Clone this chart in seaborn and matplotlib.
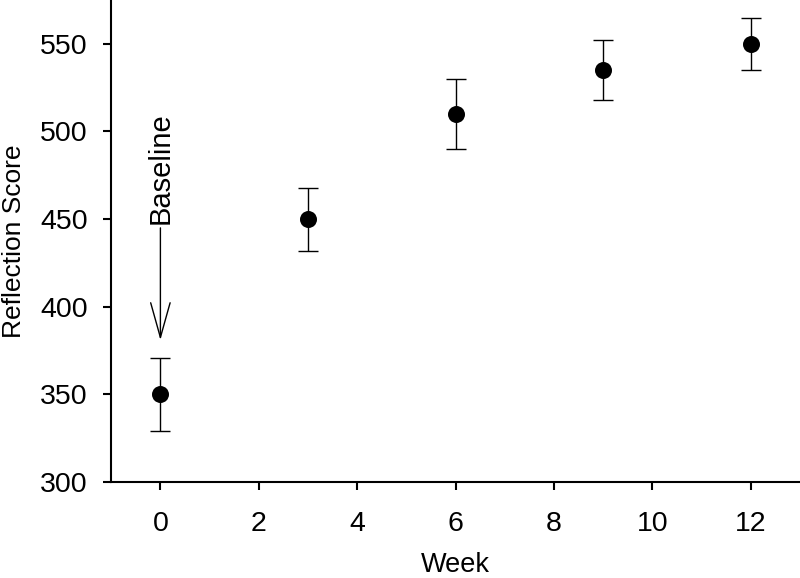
import numpy as np
import pandas as pd
import matplotlib
matplotlib.use("Agg")
import matplotlib.pyplot as plt
import seaborn as sns

# values
weeks = [0, 3, 6, 9, 12]
scores = [350, 450, 510, 535, 550]
errors = [21, 18, 20, 17, 15]

df = pd.DataFrame({"Week": weeks, "Reflection Score": scores, "err": errors})

sns.set_style("ticks")
plt.rcParams["font.family"] = ["Liberation Sans", "DejaVu Sans"]
plt.rcParams["text.color"] = "black"
plt.rcParams["axes.labelcolor"] = "black"
plt.rcParams["xtick.color"] = "black"
plt.rcParams["ytick.color"] = "black"

fig = plt.figure(figsize=(8, 5.78), dpi=100)
ax = fig.add_axes([0.139, 0.166, 0.861, 0.834])

# error bars first, dots on top
ax.errorbar(df["Week"], df["Reflection Score"], yerr=df["err"], fmt="none",
            ecolor="black", elinewidth=1, capsize=7.5, capthick=1, zorder=2)
sns.scatterplot(data=df, x="Week", y="Reflection Score", ax=ax, color="black",
                s=150, edgecolor="black", linewidth=0, zorder=3, legend=False)

# baseline arrow
ax.annotate("", xy=(0, 381), xytext=(0, 445),
            arrowprops=dict(arrowstyle="->,head_length=25,head_width=7",
                            mutation_scale=1, color="black", lw=1,
                            shrinkA=0, shrinkB=0))
ax.text(0, 447, "Baseline", rotation=90, ha="center", va="bottom", fontsize=21)

ax.set_xlim(-1, 13)
ax.set_ylim(300, 575)
ax.set_xticks(np.arange(0, 13, 2))
ax.set_yticks(np.arange(300, 551, 50))

ax.set_xlabel("Week", fontsize=19.5, labelpad=11)
ax.set_ylabel("Reflection Score", fontsize=19, labelpad=10)
ax.tick_params(axis="both", labelsize=20.5, length=6, width=1.5, color="black",
               direction="out")
ax.tick_params(axis="x", pad=15)
ax.tick_params(axis="y", pad=11)

sns.despine(ax=ax)
for side in ["left", "bottom"]:
    ax.spines[side].set_linewidth(1.5)
    ax.spines[side].set_color("black")

fig.savefig("out.png", dpi=100)
